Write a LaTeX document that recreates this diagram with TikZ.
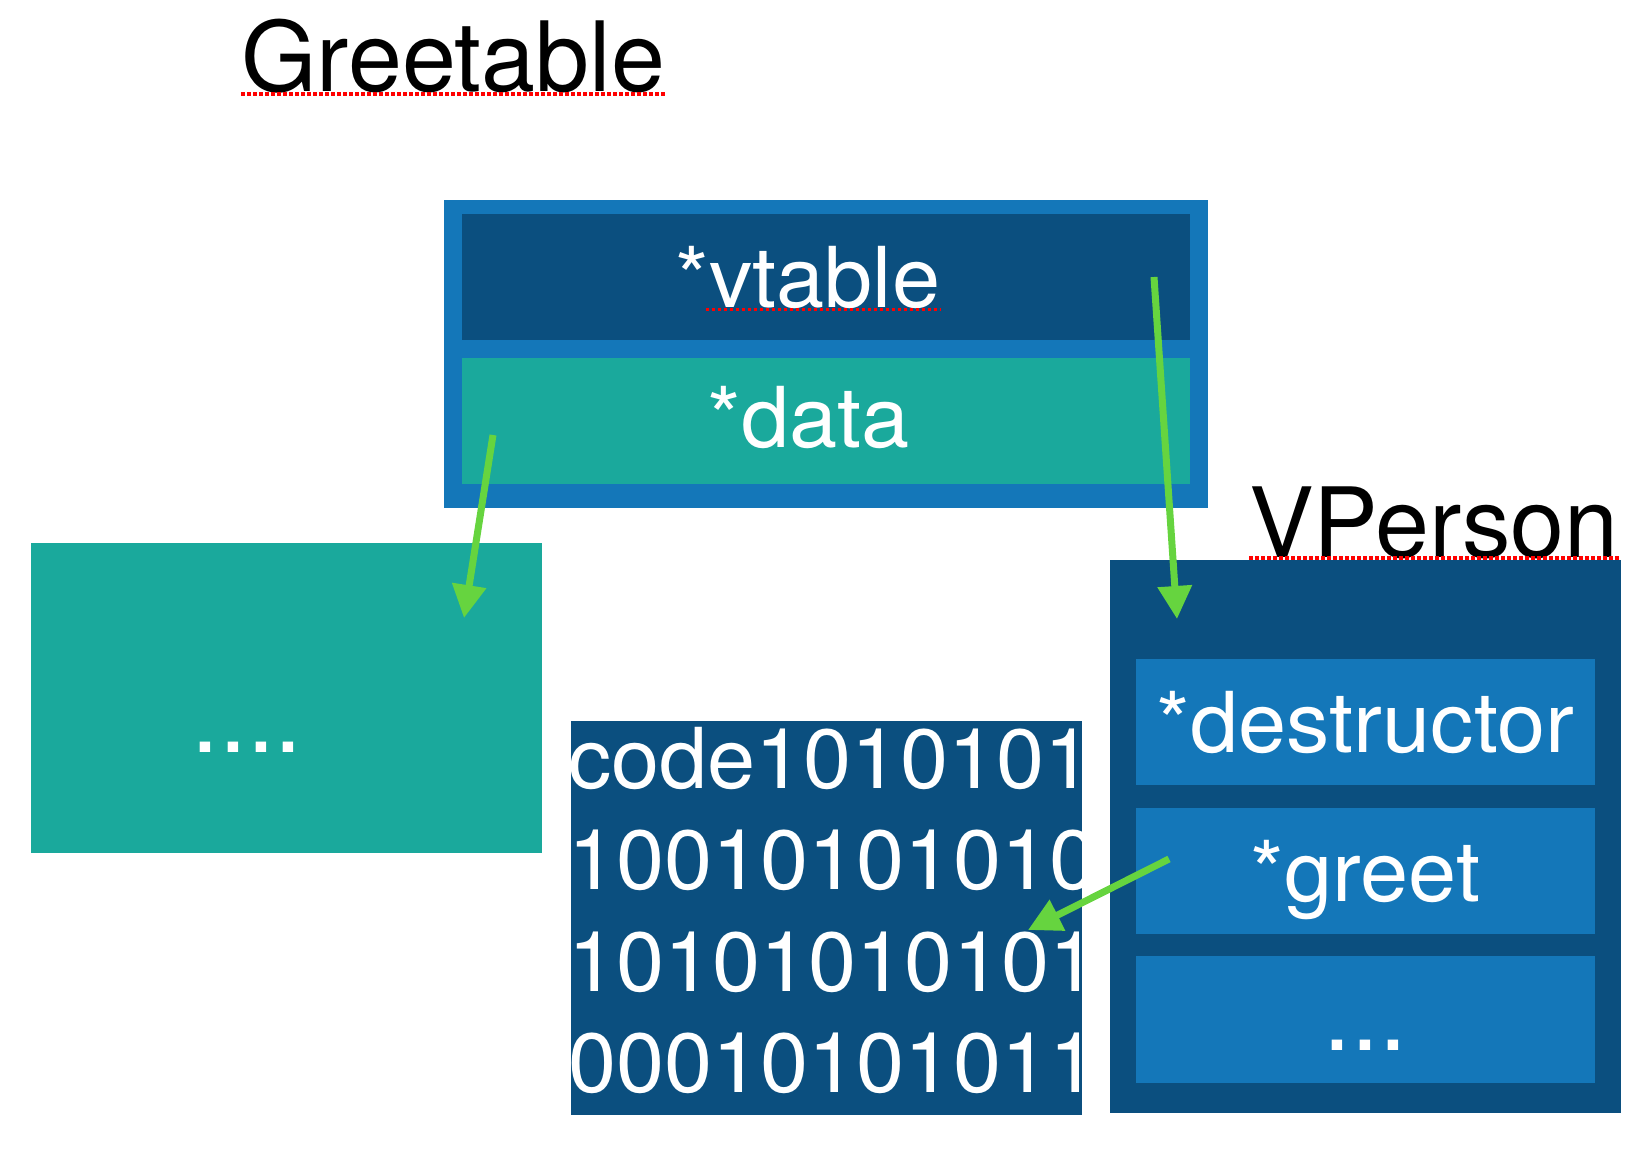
\documentclass[tikz,border=0pt]{standalone}
\usepackage{fontspec}
\setmainfont{TeX Gyre Heros}
\newfontfamily\bodyfamily{TeX Gyre Heros}[FakeStretch=1.03]
\usepackage{xcolor}
\usepackage{tikz}
\usetikzlibrary{positioning,arrows.meta}

\definecolor{outerblue}{RGB}{20,119,185}
\definecolor{navyblue}{RGB}{11,79,127}
\definecolor{datateal}{RGB}{26,169,156}
\definecolor{ptrgreen}{RGB}{102,212,63}

\newcommand\bodyfont{\bodyfamily\fontsize{84pt}{101.6pt}\selectfont}
\newcommand\titlefont{\fontsize{97pt}{116pt}\selectfont}
\newcommand\dotfont{\fontsize{100pt}{120pt}\selectfont}

\tikzset{
  cell/.style={rectangle,inner sep=0pt,outer sep=0pt,anchor=north west},
  row/.style={cell,fill=outerblue,minimum width=459pt,minimum height=126pt,
    text=white,font=\bodyfont,text height=61pt,text depth=0pt},
  celltext/.style={inner sep=0pt,text=white,font=\bodyfont,text height=61pt,text depth=0pt},
  title/.style={inner sep=0pt,anchor=base west,font=\titlefont},
  ptr/.style={draw=ptrgreen,line width=7pt,-{Triangle[length=33pt,width=33pt]}},
  squiggle/.style={draw=red,line width=3.5pt,dash pattern=on 3.5pt off 2.5pt}
}

\begin{document}
\begin{tikzpicture}[x=1pt,y=-1pt]
  \useasboundingbox (0,0) rectangle (1650,1164);

  % Greetable
  \node[title] (greettitle) at (241,92) {Greetable};
  \node[cell,fill=outerblue,minimum width=764pt,minimum height=308pt] (greetable) at (444,200) {};
  \node[cell,fill=navyblue,minimum width=728pt,minimum height=126pt] (vtable) at (462,214) {};
  \node[cell,fill=datateal,minimum width=728pt,minimum height=126pt,below=18pt of vtable] (data) {};
  \node[celltext] (vtabletext) at ([xshift=-18pt]vtable.center) {*vtable};
  \node[celltext] (datatext) at ([xshift=-17pt,yshift=4pt]data.center) {*data};

  % data
  \node[cell,fill=datateal,minimum width=511pt,minimum height=310pt] (leftbox) at (31,543) {};
  \node[inner sep=0pt,anchor=base,text=white,font=\dotfont] (leftdots) at (247,752) {....};

  % code
  \node[cell,fill=navyblue,minimum width=511pt,minimum height=394pt] (codebox) at (571,721) {};
  \node[inner sep=0pt,anchor=base west,text=white,font=\bodyfont,
    align=left,text width=530pt] (codetext) at (568,788)
    {code1010101\\10010101010\\10101010101\\00010101011};

  % VPerson
  \node[cell,fill=navyblue,minimum width=511pt,minimum height=553pt] (vperson) at (1110,560) {};
  \node[title] (vpersontitle) at (1249,557) {VPerson};
  \node[row] (destructor) at (1136,659) {*destructor};
  \node[row,below=23pt of destructor] (greet) {*greet};
  \node[row,below=22pt of greet,minimum height=127pt,font=\dotfont] (vdots) {...};

  % spelling marks
  \draw[squiggle] ([yshift=-2pt]greettitle.base west) -- ([yshift=-2pt]greettitle.base east);
  \draw[squiggle] ([xshift=30pt,yshift=-2pt]vtabletext.base west) -- ([yshift=-2pt]vtabletext.base east);
  \draw[squiggle] ([yshift=-1pt]vpersontitle.base west) -- ([yshift=-1pt]vpersontitle.base east);

  % pointers
  \coordinate (dataptr) at (493,435);
  \coordinate (leftptr) at (464,618);
  \coordinate (vtableptr) at (1154,277);
  \coordinate (vpersonptr) at (1177,619);
  \coordinate (greetptr) at (1169,859);
  \coordinate (codeptr) at (1028,930);
  \draw[ptr] (dataptr) -- (leftptr);
  \draw[ptr] (vtableptr) -- (vpersonptr);
  \draw[ptr] (greetptr) -- (codeptr);
\end{tikzpicture}
\end{document}
